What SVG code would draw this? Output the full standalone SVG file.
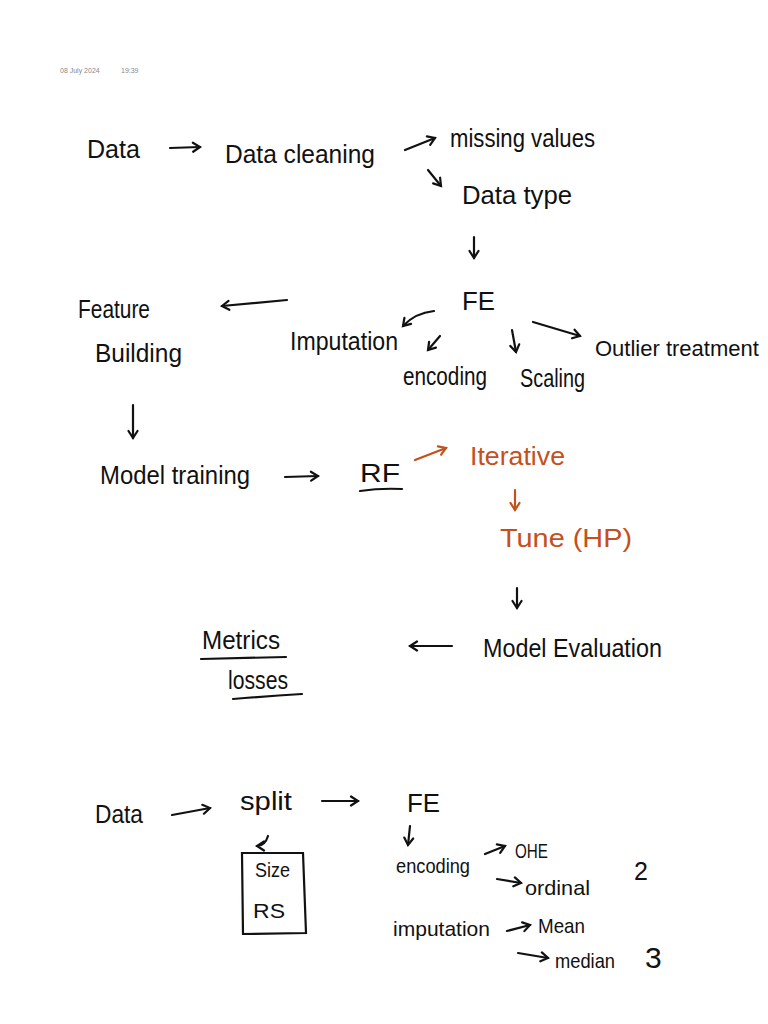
<svg xmlns="http://www.w3.org/2000/svg" width="768" height="1024" viewBox="0 0 768 1024">
<style>
.t{font-family:"Liberation Sans","DejaVu Sans",sans-serif;fill:#111;font-size:25px}
.s{font-size:21px}
.r{fill:#c4501c}
.meta{font-family:"Liberation Sans",sans-serif;fill:#888;font-size:7px}
.ln{stroke:#111;stroke-width:2.2;fill:none;stroke-linecap:round}
.red{stroke:#c4501c}
</style>
<defs>
<marker id="ah" markerUnits="userSpaceOnUse" markerWidth="12" markerHeight="12" refX="9" refY="6" orient="auto">
<path d="M2,1.5 L9,6 L2,10.5" fill="none" stroke="#111" stroke-width="2.2" stroke-linecap="round"/>
</marker>
<marker id="ahr" markerUnits="userSpaceOnUse" markerWidth="12" markerHeight="12" refX="9" refY="6" orient="auto">
<path d="M2,1.5 L9,6 L2,10.5" fill="none" stroke="#c4501c" stroke-width="2.2" stroke-linecap="round"/>
</marker>
</defs>
<rect width="768" height="1024" fill="#fff"/>
<g id="header"><text class="meta" x="60" y="73">08 July 2024</text><text class="meta" x="121" y="73">19:39</text></g>
<g id="connectors">
<path class="ln" d="M170,148 L200,147" marker-end="url(#ah)"/>
<path class="ln" d="M405,150 L435,138" marker-end="url(#ah)"/>
<path class="ln" d="M428,170 L441,186" marker-end="url(#ah)"/>
<path class="ln" d="M474,237 L474,258" marker-end="url(#ah)"/>
<path class="ln" d="M287,300 L222,306" marker-end="url(#ah)"/>
<path class="ln" d="M434,311 Q415,313 403,326" marker-end="url(#ah)"/>
<path class="ln" d="M440,336 L428,350" marker-end="url(#ah)"/>
<path class="ln" d="M512,330 L516,352" marker-end="url(#ah)"/>
<path class="ln" d="M533,322 L580,336" marker-end="url(#ah)"/>
<path class="ln" d="M133,405 L133,438" marker-end="url(#ah)"/>
<path class="ln" d="M285,477 L318,476" marker-end="url(#ah)"/>
<path class="ln red" d="M415,460 L446,448" marker-end="url(#ahr)"/>
<path class="ln red" d="M515,490 L515,510" marker-end="url(#ahr)"/>
<path class="ln" d="M517,588 L517,608" marker-end="url(#ah)"/>
<path class="ln" d="M452,646 L410,646" marker-end="url(#ah)"/>
<path class="ln" d="M172,815 L210,808" marker-end="url(#ah)"/>
<path class="ln" d="M322,801 L358,801" marker-end="url(#ah)"/>
<path class="ln" d="M268,836 Q265,846 257,846" marker-end="url(#ah)"/>
<path class="ln" d="M410,826 L408,845" marker-end="url(#ah)"/>
<path class="ln" d="M485,854 L505,846" marker-end="url(#ah)"/>
<path class="ln" d="M497,879 L521,883" marker-end="url(#ah)"/>
<path class="ln" d="M507,931 L530,925" marker-end="url(#ah)"/>
<path class="ln" d="M518,953 L548,958" marker-end="url(#ah)"/>
</g>
<g id="data1"><text class="t" x="87" y="158" textLength="53" lengthAdjust="spacingAndGlyphs">Data</text></g>
<g id="cleaning"><text class="t" x="225" y="163" textLength="150" lengthAdjust="spacingAndGlyphs">Data cleaning</text></g>
<g id="missing"><text class="t" x="450" y="147" textLength="145" lengthAdjust="spacingAndGlyphs">missing values</text></g>
<g id="datatype"><text class="t" x="462" y="204" textLength="110" lengthAdjust="spacingAndGlyphs">Data type</text></g>
<g id="fe"><text class="t" x="462" y="310" textLength="33" lengthAdjust="spacingAndGlyphs">FE</text></g>
<g id="feature"><text class="t" x="78" y="318" textLength="72" lengthAdjust="spacingAndGlyphs">Feature</text><text class="t" x="95" y="362" textLength="87" lengthAdjust="spacingAndGlyphs">Building</text></g>
<g id="imputation"><text class="t" x="290" y="350" textLength="108" lengthAdjust="spacingAndGlyphs">Imputation</text></g>
<g id="encoding"><text class="t" x="403" y="385" textLength="84" lengthAdjust="spacingAndGlyphs">encoding</text></g>
<g id="scaling"><text class="t" x="520" y="387" textLength="65" lengthAdjust="spacingAndGlyphs">Scaling</text></g>
<g id="outlier"><text class="t" x="595" y="356" style="font-size:22px">Outlier treatment</text></g>
<g id="training"><text class="t" x="100" y="484" textLength="150" lengthAdjust="spacingAndGlyphs">Model training</text></g>
<g id="rf"><text class="t" x="360" y="482" textLength="40" lengthAdjust="spacingAndGlyphs">RF</text><path class="ln" d="M360,491 Q380,488 402,489"/></g>
<g id="iterative"><text class="t r" x="470" y="465" textLength="95" lengthAdjust="spacingAndGlyphs">Iterative</text></g>
<g id="tune"><text class="t r" x="500" y="547" textLength="132" lengthAdjust="spacingAndGlyphs">Tune  (HP)</text></g>
<g id="evaluation"><text class="t" x="483" y="657" textLength="179" lengthAdjust="spacingAndGlyphs">Model Evaluation</text></g>
<g id="metrics"><text class="t" x="202" y="649" textLength="78" lengthAdjust="spacingAndGlyphs">Metrics</text><path class="ln" d="M201,659 L286,657"/><text class="t" x="228" y="689" textLength="60" lengthAdjust="spacingAndGlyphs">losses</text><path class="ln" d="M233,699 Q270,696 302,694"/></g>
<g id="data2"><text class="t" x="95" y="823" textLength="48" lengthAdjust="spacingAndGlyphs">Data</text></g>
<g id="split"><text class="t" x="240" y="810" textLength="52" lengthAdjust="spacingAndGlyphs">split</text></g>
<g id="fe2"><text class="t" x="407" y="812" textLength="33" lengthAdjust="spacingAndGlyphs">FE</text></g>
<g id="box"><path class="ln" d="M242,853 L303,853 L306,933 L243,934 Z"/><text class="t s" x="255" y="877" textLength="35" lengthAdjust="spacingAndGlyphs">Size</text><text class="t s" x="253" y="918" textLength="32" lengthAdjust="spacingAndGlyphs">RS</text></g>
<g id="encoding2"><text class="t s" x="396" y="873" textLength="74" lengthAdjust="spacingAndGlyphs">encoding</text></g>
<g id="ohe"><text class="t s" x="515" y="858" textLength="33" lengthAdjust="spacingAndGlyphs">OHE</text></g>
<g id="ordinal"><text class="t s" x="525" y="895" textLength="65" lengthAdjust="spacingAndGlyphs">ordinal</text></g>
<g id="two"><text class="t" x="634" y="880">2</text></g>
<g id="imputation2"><text class="t s" x="393" y="936" textLength="97" lengthAdjust="spacingAndGlyphs">imputation</text></g>
<g id="mean"><text class="t s" x="538" y="933" textLength="47" lengthAdjust="spacingAndGlyphs">Mean</text></g>
<g id="median"><text class="t s" x="555" y="968" textLength="60" lengthAdjust="spacingAndGlyphs">median</text></g>
<g id="three"><text class="t" x="645" y="968" style="font-size:30px">3</text></g>
</svg>
